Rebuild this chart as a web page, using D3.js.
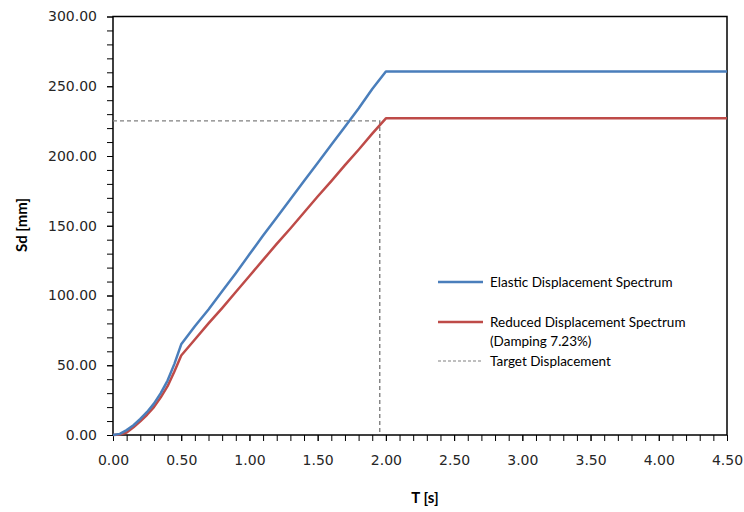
<!DOCTYPE html>
<html>
<head>
<meta charset="utf-8">
<script src="https://cdn.jsdelivr.net/npm/d3@7"></script>
<style>
  body { margin: 0; background: #fff; }
  svg { display: block; }
  .tick text { font-family: "DejaVu Sans", Verdana, sans-serif; font-size: 14px; fill: #262626; }
  .lab { font-family: Lato, "Open Sans", sans-serif; }
</style>
</head>
<body>
<div id="chart"></div>
<script>
const periods = [0, 0.05, 0.1, 0.15, 0.2, 0.25, 0.3, 0.35, 0.4, 0.45, 0.5, 0.6, 0.7, 0.8, 0.9, 1.0, 1.1, 1.2, 1.3, 1.4, 1.5, 1.6, 1.7, 1.8, 1.9, 2.0, 4.5];
const elastic = [0, 0.8, 3.5, 7, 11.5, 16.5, 22.5, 30, 39, 51, 65, 78, 90, 103, 116, 129.5, 143, 156, 169, 182, 195, 208, 221, 234, 248, 260.5, 260.5];
const reduced = [0, 0.4, 1.8, 5.5, 9.8, 14.5, 20, 27, 35, 45.5, 57, 68.5, 80, 91, 102.5, 114, 125.5, 137, 148, 159.5, 171, 182, 193.5, 204.5, 216, 227, 227];
const targetT = 1.955;
const targetSd = 225.2;
const xTicks = d3.range(0, 4.51, 0.5);
const yTicks = d3.range(0, 301, 50);
const seriesNames = ["Elastic Displacement Spectrum", "Reduced Displacement Spectrum", "(Damping 7.23%)", "Target Displacement"];

const width = 744, height = 512;
const m = { left: 113, right: 727, top: 16.5, bottom: 435 };

const svg = d3.select('#chart').append('svg')
    .attr('width', width)
    .attr('height', height);

const x = d3.scaleLinear().domain([0, 4.5]).range([m.left, m.right]);
const y = d3.scaleLinear().domain([0, 300]).range([m.bottom, m.top]);

// minor ticks
svg.append('g')
    .attr('transform', `translate(0,${m.bottom})`)
    .call(d3.axisBottom(x).tickValues(d3.range(0, 4.51, 0.1)).tickSize(6).tickFormat(''))
    .call(g => g.select('.domain').remove())
    .call(g => g.selectAll('line').attr('stroke', '#000'));
svg.append('g')
    .attr('transform', `translate(${m.left},0)`)
    .call(d3.axisLeft(y).tickValues(d3.range(0, 301, 10)).tickSize(6).tickFormat(''))
    .call(g => g.select('.domain').remove())
    .call(g => g.selectAll('line').attr('stroke', '#000'));

// major ticks + labels
svg.append('g')
    .attr('transform', `translate(0,${m.bottom})`)
    .call(d3.axisBottom(x).tickValues(xTicks).tickSize(6).tickPadding(14).tickFormat(d3.format('.2f')))
    .call(g => g.select('.domain').remove())
    .call(g => g.selectAll('line').attr('stroke', '#000'));
svg.append('g')
    .attr('transform', `translate(${m.left},0)`)
    .call(d3.axisLeft(y).tickValues(yTicks).tickSize(6).tickPadding(10).tickFormat(d3.format('.2f')))
    .call(g => g.select('.domain').remove())
    .call(g => g.selectAll('line').attr('stroke', '#000'));

// frame
svg.append('rect')
    .attr('x', m.left).attr('y', m.top)
    .attr('width', m.right - m.left).attr('height', m.bottom - m.top)
    .attr('fill', 'none').attr('stroke', '#000').attr('stroke-width', 1.5);

// target displacement
svg.append('path')
    .attr('d', `M${x(0)},${y(targetSd)}H${x(targetT)}V${y(0)}`)
    .attr('fill', 'none').attr('stroke', '#808080').attr('stroke-width', 1.4)
    .attr('stroke-dasharray', '4,3');

const line = d3.line().x((d, i) => x(periods[i])).y(d => y(d));

svg.append('path').datum(reduced)
    .attr('d', line).attr('fill', 'none')
    .attr('stroke', '#be4b48').attr('stroke-width', 2.5).attr('stroke-linejoin', 'round');
svg.append('path').datum(elastic)
    .attr('d', line).attr('fill', 'none')
    .attr('stroke', '#4a7ebb').attr('stroke-width', 2.5).attr('stroke-linejoin', 'round');

// legend
const lg = svg.append('g').attr('class', 'lab').attr('font-size', 13.5).attr('fill', '#000');
const legendItems = [
    { y: 282, color: '#4a7ebb', dash: null, w: 2.5, text: [seriesNames[0]] },
    { y: 322, color: '#be4b48', dash: null, w: 2.5, text: [seriesNames[1], seriesNames[2]] },
    { y: 361, color: '#808080', dash: '3,2', w: 1.2, text: [seriesNames[3]] }
];
legendItems.forEach(it => {
    lg.append('line')
        .attr('x1', 438).attr('x2', 483).attr('y1', it.y).attr('y2', it.y)
        .attr('stroke', it.color).attr('stroke-width', it.w)
        .attr('stroke-dasharray', it.dash);
    it.text.forEach((t, j) => {
        lg.append('text')
            .attr('x', 490).attr('y', it.y + 4.5 + j * 19)
            .text(t);
    });
});

// axis titles
svg.append('text').attr('class', 'lab')
    .attr('x', 425).attr('y', 503)
    .attr('text-anchor', 'middle').attr('font-weight', 'bold').attr('font-size', 15)
    .text('T [s]');
svg.append('text').attr('class', 'lab')
    .attr('transform', 'translate(27,225) rotate(-90)')
    .attr('text-anchor', 'middle').attr('font-weight', 'bold').attr('font-size', 15)
    .text('Sd [mm]');
</script>
</body>
</html>
